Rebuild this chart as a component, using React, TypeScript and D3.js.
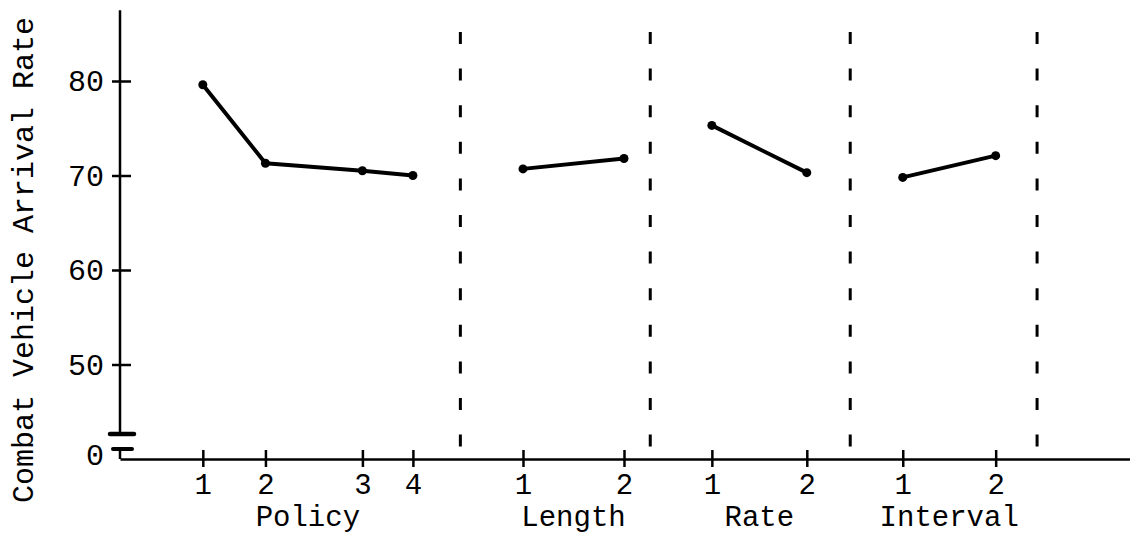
import React, { useEffect, useRef } from "react";
import * as d3 from "d3";

// factor levels, their spots along the x axis (axis units), and the arrival rate
const policyLevels = ["1", "2", "3", "4"];
const policyPos = [0.82, 1.44, 2.4, 2.9];
const policyRate = [79.6, 71.3, 70.5, 70.0];

const lengthLevels = ["1", "2"];
const lengthPos = [3.99, 4.99];
const lengthRate = [70.7, 71.8];

const rateLevels = ["1", "2"];
const ratePos = [5.86, 6.8];
const rateRate = [75.3, 70.3];

const intervalLevels = ["1", "2"];
const intervalPos = [7.75, 8.67];
const intervalRate = [69.8, 72.1];

const dividerPos = [3.37, 5.25, 7.23, 9.08];
const yTicks = [80, 70, 60, 50];

const factors = [
  { name: "Policy", levels: policyLevels, pos: policyPos, rate: policyRate },
  { name: "Length", levels: lengthLevels, pos: lengthPos, rate: lengthRate },
  { name: "Rate", levels: rateLevels, pos: ratePos, rate: rateRate },
  { name: "Interval", levels: intervalLevels, pos: intervalPos, rate: intervalRate },
];

const FONT = "'Courier New', 'Liberation Mono', monospace";

export default function App() {
  const svgRef = useRef<SVGSVGElement | null>(null);

  useEffect(() => {
    document.body.style.margin = "0";
    if (!svgRef.current) return;

    const width = 1130;
    const height = 534;
    const x0 = 120;
    const yBase = 459;

    d3.select(svgRef.current).selectAll("*").remove();
    const svg = d3
      .select(svgRef.current)
      .attr("width", width)
      .attr("height", height)
      .style("display", "block")
      .style("background", "#fff");

    const x = d3.scaleLinear().domain([0, 10]).range([x0, width]);
    // the axis is broken: "0" sits where 40 would be
    const y = d3.scaleLinear().domain([40, 80]).range([yBase, 81]);

    // y axis with break
    const breakTop = 434;
    const breakBottom = 449;
    svg
      .append("line")
      .attr("x1", x0)
      .attr("x2", x0)
      .attr("y1", y(87.5))
      .attr("y2", breakTop)
      .attr("stroke", "#000")
      .attr("stroke-width", 2.5);
    svg
      .append("line")
      .attr("x1", x0)
      .attr("x2", x0)
      .attr("y1", breakBottom)
      .attr("y2", yBase)
      .attr("stroke", "#000")
      .attr("stroke-width", 2.5);
    svg
      .append("line")
      .attr("x1", x0 - 10)
      .attr("x2", x0 + 14)
      .attr("y1", breakTop)
      .attr("y2", breakTop)
      .attr("stroke", "#000")
      .attr("stroke-width", 4.5)
      .attr("stroke-linecap", "round");
    svg
      .append("line")
      .attr("x1", x0 - 7)
      .attr("x2", x0 + 12)
      .attr("y1", breakBottom)
      .attr("y2", breakBottom)
      .attr("stroke", "#000")
      .attr("stroke-width", 4)
      .attr("stroke-linecap", "round");

    const yAxis = svg
      .append("g")
      .attr("transform", `translate(${x0},0)`)
      .call(d3.axisLeft(y).tickValues(yTicks).tickSize(0).tickPadding(16));
    yAxis.select(".domain").remove();
    yAxis
      .selectAll(".tick line")
      .attr("x1", -8)
      .attr("x2", 11)
      .attr("stroke", "#000")
      .attr("stroke-width", 2.5);
    yAxis
      .selectAll(".tick text")
      .attr("fill", "#000")
      .attr("font-family", FONT)
      .attr("font-size", 30);

    svg
      .append("text")
      .attr("x", x0 - 16)
      .attr("y", y(40) - 4)
      .attr("dy", "0.32em")
      .attr("text-anchor", "end")
      .attr("font-family", FONT)
      .attr("font-size", 30)
      .text("0");

    // x axis
    const allPos = factors.flatMap((f) => f.pos);
    const allLabels = factors.flatMap((f) => f.levels);
    const xAxis = svg
      .append("g")
      .attr("transform", `translate(0,${yBase})`)
      .call(
        d3
          .axisBottom(x)
          .tickValues(allPos)
          .tickFormat((_, i) => allLabels[i])
          .tickSize(0)
          .tickSizeOuter(0)
      );
    xAxis.select(".domain").attr("stroke", "#000").attr("stroke-width", 2.5);
    xAxis
      .selectAll(".tick line")
      .attr("y1", -9)
      .attr("y2", 8)
      .attr("stroke", "#000")
      .attr("stroke-width", 2.5);
    xAxis
      .selectAll(".tick text")
      .attr("y", 35)
      .attr("dy", 0)
      .attr("fill", "#000")
      .attr("font-family", FONT)
      .attr("font-size", 29);

    // factor names
    svg
      .selectAll("text.factor")
      .data(factors)
      .join("text")
      .attr("class", "factor")
      .attr("x", (d) => x((d3.min(d.pos)! + d3.max(d.pos)!) / 2))
      .attr("y", 526)
      .attr("text-anchor", "middle")
      .attr("font-family", FONT)
      .attr("font-size", 29)
      .text((d) => d.name);

    // dashed dividers
    svg
      .selectAll("line.divider")
      .data(dividerPos)
      .join("line")
      .attr("class", "divider")
      .attr("x1", (d) => x(d))
      .attr("x2", (d) => x(d))
      .attr("y1", 32)
      .attr("y2", 454)
      .attr("stroke", "#000")
      .attr("stroke-width", 3)
      .attr("stroke-dasharray", "12 24.6");

    // effect lines
    const line = d3
      .line<[number, number]>()
      .x((d) => x(d[0]))
      .y((d) => y(d[1]));

    factors.forEach((f) => {
      const pts = f.pos.map((p, i) => [p, f.rate[i]] as [number, number]);
      svg
        .append("path")
        .attr("d", line(pts))
        .attr("fill", "none")
        .attr("stroke", "#000")
        .attr("stroke-width", 4)
        .attr("stroke-linejoin", "round");
      svg
        .append("g")
        .selectAll("circle")
        .data(pts)
        .join("circle")
        .attr("cx", (d) => x(d[0]))
        .attr("cy", (d) => y(d[1]))
        .attr("r", 4.5)
        .attr("fill", "#000");
    });

    // y label
    svg
      .append("text")
      .attr("transform", `translate(33,${260}) rotate(-90)`)
      .attr("text-anchor", "middle")
      .attr("font-family", FONT)
      .attr("font-size", 30)
      .text("Combat Vehicle Arrival Rate");
  }, []);

  return <svg ref={svgRef} />;
}
